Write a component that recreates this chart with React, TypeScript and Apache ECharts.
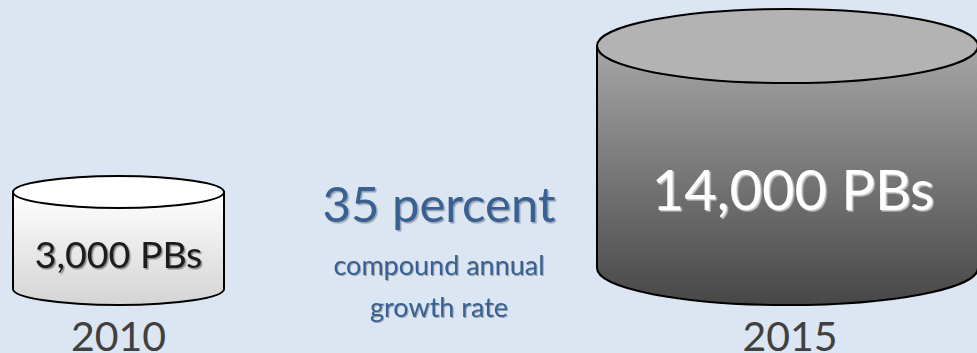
import React, { useEffect, useRef } from "react";
import * as echarts from "echarts";

const years = [2010, 2015];
const petabytes = [3000, 14000];
const rateLines = ["35 percent", "compound annual", "growth rate"];

const FONT = "Lato, 'Open Sans', sans-serif";
const BG = "#DCE6F2";
const BLUE = "#376092";

// Look of each cylinder, in drawing order.
const cylinderLooks = [
  { halfWidth: 105.5, capRy: 16, dx: 0, labelDx: 0, size: 37.5, text: "#1a1a1a", textShadow: "rgba(0,0,0,0.4)",
    cap: "#ffffff", bodyTop: "#ffffff", bodyBottom: "#d4d4d4" },
  { halfWidth: 190.5, capRy: 37, dx: -2.5, labelDx: 3, size: 56, text: "#ffffff", textShadow: "rgba(205,205,205,1)",
    cap: "#b3b3b3", bodyTop: "#a6a6a6", bodyBottom: "#474747" },
];
const labelBottoms = [272.5, 216];
const rateStyles = [
  { y: 178.5, size: 49, blur: 1.5, offset: 1.5 },
  { y: 251, size: 27, blur: 1, offset: 1 },
  { y: 293, size: 27, blur: 1, offset: 1 },
];

export default function App() {
  const ref = useRef<HTMLDivElement>(null);
  useEffect(() => {
    const chart = echarts.init(ref.current!, null, { renderer: "svg" });
    chart.setOption({
      animation: false,
      backgroundColor: BG,
      grid: { left: 118.5, width: 671.5, top: 9, height: 296, outerBoundsMode: "none" },
      xAxis: {
        type: "value",
        min: 2010,
        max: 2015,
        interval: 5,
        axisLine: { show: false },
        axisTick: { show: false },
        splitLine: { show: false },
        axisLabel: {
          formatter: (v: number) => String(v),
          color: "#404040",
          fontFamily: FONT,
          fontSize: 41,
          lineHeight: 34,
          margin: 13,
          showMinLabel: true,
          showMaxLabel: true,
        },
      },
      // Cylinder heights grow with the logarithm of the stored volume.
      yAxis: { type: "log", min: 912, max: 14000, show: false },
      series: [
        {
          type: "custom",
          clip: false,
          data: years.map((y, i) => [y, petabytes[i]]),
          encode: { x: 0, y: 1 },
          renderItem: (params: any, api: any) => {
            const look = cylinderLooks[params.dataIndex];
            const [x, top] = api.coord([api.value(0), api.value(1)]);
            const [, base] = api.coord([api.value(0), 912]);
            const cx = x + look.dx;
            const a = look.halfWidth;
            const b = look.capRy;
            const capY = top + b;
            const shoulder = base - b;
            const stroke = { stroke: "#000000", lineWidth: 2 };
            return {
              type: "group",
              children: [
                {
                  type: "path",
                  shape: {
                    pathData: `M${cx - a} ${capY}L${cx - a} ${shoulder}A${a} ${b} 0 0 0 ${cx + a} ${shoulder}L${cx + a} ${capY}Z`,
                    x: cx - a,
                    y: capY,
                    width: 2 * a,
                    height: base - capY,
                    layout: "cover",
                  },
                  style: {
                    ...stroke,
                    fill: new echarts.graphic.LinearGradient(0, 0, 0, 1, [
                      { offset: 0, color: look.bodyTop },
                      { offset: 1, color: look.bodyBottom },
                    ]),
                  },
                },
                {
                  type: "ellipse",
                  shape: { cx, cy: capY, rx: a, ry: b },
                  style: { ...stroke, fill: look.cap },
                },
                {
                  type: "text",
                  x: x + look.labelDx,
                  y: labelBottoms[params.dataIndex],
                  style: {
                    text: `${Number(api.value(1)).toLocaleString("en-US")} PBs`,
                    fill: look.text,
                    font: `${look.size}px ${FONT}`,
                    align: "center",
                    verticalAlign: "bottom",
                    textShadowColor: look.textShadow,
                    textShadowBlur: 1.5,
                    textShadowOffsetX: 1.5,
                    textShadowOffsetY: 1.5,
                  },
                },
              ],
            };
          },
        },
      ],
      graphic: rateLines.map((text, i) => ({
        type: "text",
        x: 439,
        y: rateStyles[i].y,
        style: {
          text,
          fill: BLUE,
          font: `${rateStyles[i].size}px ${FONT}`,
          align: "center",
          verticalAlign: "top",
          textShadowColor: "rgba(0,0,0,0.3)",
          textShadowBlur: rateStyles[i].blur,
          textShadowOffsetX: rateStyles[i].offset,
          textShadowOffsetY: rateStyles[i].offset,
        },
      })),
    });
    return () => chart.dispose();
  }, []);
  return (
    <div
      ref={ref}
      style={{ position: "fixed", left: 0, top: 0, width: 977, height: 353 }}
    />
  );
}
